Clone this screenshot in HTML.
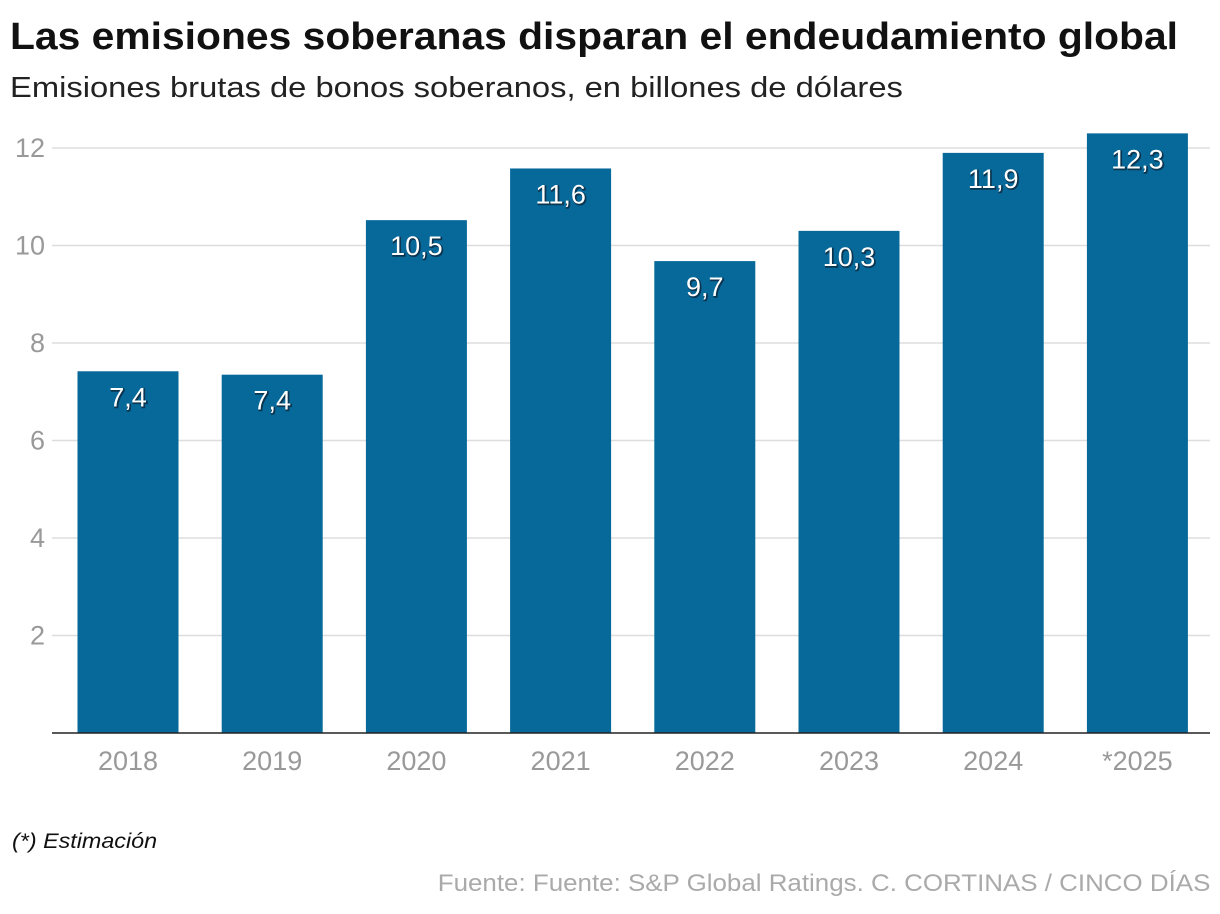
<!DOCTYPE html>
<html><head><meta charset="utf-8">
<style>
body{margin:0;background:#fff;width:1220px;height:914px;overflow:hidden;font-family:"Liberation Sans",sans-serif;}
#title,#sub,#note{transform-origin:left top;}
#title{position:absolute;left:10px;top:16px;font-size:38px;font-weight:bold;color:#111;transform:scaleX(1.074);white-space:nowrap;}
#sub{position:absolute;left:10px;top:72px;font-size:29px;color:#222;transform:scaleX(1.128);white-space:nowrap;}
#note{position:absolute;left:12px;top:830px;font-size:21px;font-style:italic;color:#111;transform:scaleX(1.11);white-space:nowrap;}
#src{position:absolute;right:10px;top:870px;font-size:24px;color:#aaa;transform-origin:right top;transform:scaleX(1.08);white-space:nowrap;}
svg{position:absolute;left:0;top:0;}
</style></head><body>
<div id="title">Las emisiones soberanas disparan el endeudamiento global</div>
<div id="sub">Emisiones brutas de bonos soberanos, en billones de dólares</div>
<svg id="chart" width="1220" height="914"></svg>
<div id="note">(*) Estimación</div>
<div id="src">Fuente: Fuente: S&amp;P Global Ratings. C. CORTINAS / CINCO DÍAS</div>
<script>
const categories=["2018","2019","2020","2021","2022","2023","2024","*2025"];
const values=[7.42,7.35,10.52,11.58,9.68,10.3,11.9,12.3];
const labels=["7,4","7,4","10,5","11,6","9,7","10,3","11,9","12,3"];
const yTicks=[2,4,6,8,10,12];
const NS="http://www.w3.org/2000/svg";
const svg=document.getElementById('chart');
const x0=52,x1=1210,y0=733,pxPerUnit=48.75;
const bw=101;
function y(v){return y0-v*pxPerUnit;}
function xc(i){return 128+i*144.2;}
function mk(t,a){const e=document.createElementNS(NS,t);for(const k in a)e.setAttribute(k,a[k]);svg.appendChild(e);return e;}
yTicks.forEach(t=>{
  const g=mk('line',{x1:x0,x2:x1,y1:y(t),y2:y(t),stroke:'#ddd','stroke-width':1.5});
  
  
  const l=mk('text',{x:45,y:y(t)+9,'text-anchor':'end','font-size':27,fill:'#999','font-family':'Liberation Sans, sans-serif'});
  l.textContent=t;
  
  
});
categories.forEach((c,i)=>{
  const b=mk('rect',{x:xc(i)-bw/2,y:y(values[i]),width:bw,height:values[i]*pxPerUnit,fill:'#06699a'});
  
  
  const sh=mk('text',{x:xc(i)+1,y:y(values[i])+36,'text-anchor':'middle','font-size':27,fill:'#0b3550','font-family':'Liberation Sans, sans-serif',stroke:'#0b3550','stroke-width':1.5});
  sh.textContent=labels[i];
  
  
  const v=mk('text',{x:xc(i),y:y(values[i])+35,'text-anchor':'middle','font-size':27,fill:'#fff','font-family':'Liberation Sans, sans-serif'});
  v.textContent=labels[i];
  
  
  const xl=mk('text',{x:xc(i),y:770,'text-anchor':'middle','font-size':27,fill:'#999','font-family':'Liberation Sans, sans-serif'});
  xl.textContent=c;
  
  
});
const ax=mk('line',{x1:x0,x2:x1,y1:y0,y2:y0,stroke:'#222','stroke-width':1.5});


</script>
</body></html>
